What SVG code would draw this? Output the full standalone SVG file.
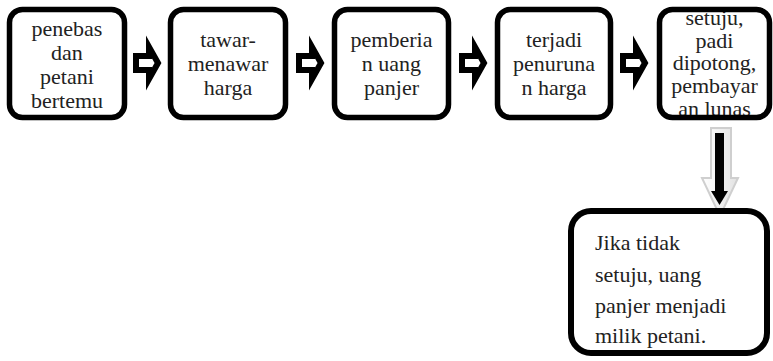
<svg xmlns="http://www.w3.org/2000/svg" width="773" height="361" viewBox="0 0 773 361">
<style>
.box{fill:#fff;stroke:#000;stroke-width:5.5}
text{font-family:'Liberation Serif','DejaVu Serif',serif;font-size:22px;fill:#222}
.t{text-anchor:middle}
.harrow{fill:#fff;stroke:#000;stroke-width:6;stroke-linejoin:miter}
</style>
<defs>
<path id="ha" d="M3,13 H16 V4 L25,20 L16,36 V27 H3 Z"/>
<linearGradient id="dg" x1="0" y1="0" x2="1" y2="0">
<stop offset="0" stop-color="#ffffff"/>
<stop offset="1" stop-color="#e2e2e2"/>
</linearGradient>
</defs>
<rect width="773" height="361" fill="#fff"/>
<g id="connectors">
<use href="#ha" class="harrow" transform="translate(133,43)"/>
<use href="#ha" class="harrow" transform="translate(296,43)"/>
<use href="#ha" class="harrow" transform="translate(459,43)"/>
<use href="#ha" class="harrow" transform="translate(620,43)"/>
<g id="down-arrow">
<path d="M711,128 H731 V178 H738 L720,216 L702,178 H711 Z" fill="url(#dg)" stroke="#cfcfcf" stroke-width="2"/>
<rect x="715" y="133" width="9" height="60" fill="#000"/>
<path d="M711,191 H728 L719.5,205 Z" fill="#000"/>
</g>
</g>
<g id="n1">
<rect class="box" x="9.5" y="9.5" width="115" height="108" rx="13"/>
<text class="t" x="67" y="36" font-family="Liberation Serif, serif">penebas</text>
<text class="t" x="67" y="60" font-family="Liberation Serif, serif">dan</text>
<text class="t" x="67" y="84" font-family="Liberation Serif, serif">petani</text>
<text class="t" x="67" y="108" font-family="Liberation Serif, serif">bertemu</text>
</g>
<g id="n2">
<rect class="box" x="170.5" y="9.5" width="115" height="108" rx="13"/>
<text class="t" x="228" y="47">tawar-</text>
<text class="t" x="228" y="71">menawar</text>
<text class="t" x="228" y="95">harga</text>
</g>
<g id="n3">
<rect class="box" x="334.5" y="9.5" width="114" height="108" rx="13"/>
<text class="t" x="391.5" y="47">pemberia</text>
<text class="t" x="391.5" y="71">n uang</text>
<text class="t" x="391.5" y="95">panjer</text>
</g>
<g id="n4">
<rect class="box" x="497.5" y="9.5" width="113" height="108" rx="13"/>
<text class="t" x="554" y="47">terjadi</text>
<text class="t" x="554" y="71">penuruna</text>
<text class="t" x="554" y="95">n harga</text>
</g>
<g id="n5">
<rect x="659.5" y="9.5" width="110" height="108" rx="13" fill="#fff"/>
<text class="t" x="714.5" y="25">setuju,</text>
<text class="t" x="714.5" y="47.5">padi</text>
<text class="t" x="714.5" y="70">dipotong,</text>
<text class="t" x="714.5" y="92.5">pembayar</text>
<text class="t" x="714.5" y="116">an lunas</text>
<rect x="659.5" y="9.5" width="110" height="108" rx="13" fill="none" stroke="#000" stroke-width="5.5"/>
</g>
<g id="n6">
<rect class="box" x="571" y="211" width="196" height="142" rx="20" style="stroke-width:6"/>
<text x="595" y="250">Jika tidak</text>
<text x="595" y="282">setuju, uang</text>
<text x="595" y="313">panjer menjadi</text>
<text x="595" y="343">milik petani.</text>
</g>
</svg>
